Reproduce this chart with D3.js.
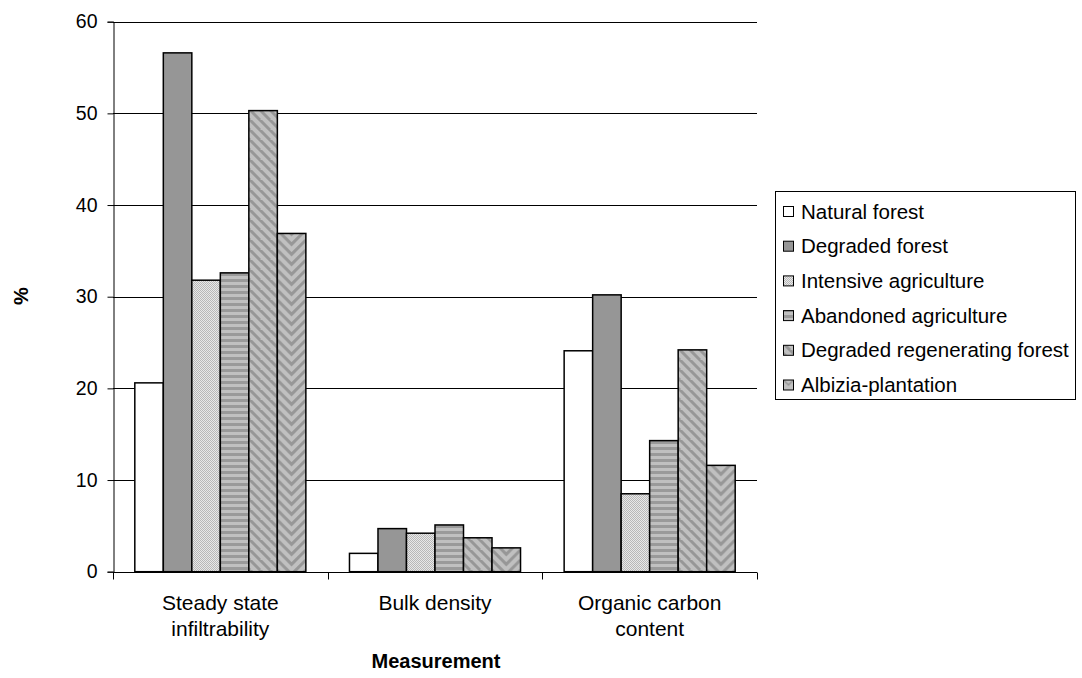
<!DOCTYPE html>
<html><head><meta charset="utf-8">
<script src="https://cdn.jsdelivr.net/npm/d3@7"></script>
<style>body{margin:0;background:#fff;} svg{display:block;font-family:"Liberation Sans",Arial,sans-serif;}</style>
</head><body>
<script>
const categories = [["Steady state","infiltrability"],["Bulk density"],["Organic carbon","content"]];
const categoryKeys = ["Steady state infiltrability","Bulk density","Organic carbon content"];
const seriesNames = ["Natural forest","Degraded forest","Intensive agriculture","Abandoned agriculture","Degraded regenerating forest","Albizia-plantation"];
const naturalForest = [20.6, 2.0, 24.1];
const degradedForest = [56.6, 4.7, 30.2];
const intensiveAgriculture = [31.8, 4.2, 8.5];
const abandonedAgriculture = [32.6, 5.1, 14.3];
const degradedRegenerating = [50.3, 3.7, 24.2];
const albiziaPlantation = [36.9, 2.6, 11.6];
const yTicks = [0,10,20,30,40,50,60];
const seriesValues = [naturalForest, degradedForest, intensiveAgriculture, abandonedAgriculture, degradedRegenerating, albiziaPlantation];

(function(){
const W = 1082, H = 678;
const svg = d3.select("body").append("svg").attr("width", W).attr("height", H);
const defs = svg.append("defs");

const pl = 113, pr = 757, pt = 21.7, pb = 571.7;
const x0 = d3.scaleBand().domain(categoryKeys).range([pl, pr]).paddingInner(0).paddingOuter(0);
const x1 = d3.scaleBand().domain(seriesNames).range([0, x0.bandwidth()]).paddingOuter(0.765).paddingInner(0);
const y = d3.scaleLinear().domain([0, 60]).range([pb, pt]);
const bw = x1.bandwidth();

// patterns
const pDot = defs.append("pattern").attr("id","pInt").attr("patternUnits","userSpaceOnUse").attr("width",2).attr("height",2);
pDot.append("rect").attr("width",2).attr("height",2).attr("fill","#e8e8e8");
pDot.append("rect").attr("width",1).attr("height",1).attr("fill","#b8b8b8");
pDot.append("rect").attr("x",1).attr("y",1).attr("width",1).attr("height",1).attr("fill","#b8b8b8");

const pH = defs.append("pattern").attr("id","pAb").attr("patternUnits","userSpaceOnUse").attr("width",8).attr("height",6);
pH.append("rect").attr("width",8).attr("height",6).attr("fill","#c0c0c0");
pH.append("rect").attr("y",3).attr("width",8).attr("height",3).attr("fill","#9a9a9a");

const pD = defs.append("pattern").attr("id","pReg").attr("patternUnits","userSpaceOnUse").attr("width",10).attr("height",10);
pD.append("rect").attr("width",10).attr("height",10).attr("fill","#c0c0c0");
pD.append("path").attr("d","M0,0 L10,10 M-5,5 L0,10 M5,-5 L15,5").attr("stroke","#979797").attr("stroke-width",3);

// chevron pattern per bar position (aligned to each bar)
function chevronPattern(id, xoff, w, size) {
  const ph = 10;
  const p = defs.append("pattern").attr("id", id).attr("patternUnits","userSpaceOnUse")
    .attr("width", w).attr("height", ph).attr("patternTransform", `translate(${xoff},0)`);
  p.append("rect").attr("width", w).attr("height", ph).attr("fill","#c0c0c0");
  let d = "";
  for (let k = -3; k <= 2; k++) {
    const y0 = k * ph;
    d += `M0,${y0} L${w/2},${y0 + w/2} L${w},${y0} `;
  }
  p.append("path").attr("d", d).attr("fill","none").attr("stroke","#979797").attr("stroke-width", size);
}

const fills = ["#ffffff","#969696","url(#pInt)","url(#pAb)","url(#pReg)", null];

// gridlines
svg.append("g").selectAll("line").data(yTicks.filter(d=>d>0)).join("line")
  .attr("x1", pl).attr("x2", pr).attr("y1", d=>Math.round(y(d))+0.5).attr("y2", d=>Math.round(y(d))+0.5)
  .attr("stroke","#000").attr("stroke-width",1);

// bars
const g = svg.append("g");
categoryKeys.forEach((c, ci) => {
  seriesNames.forEach((s, si) => {
    const v = seriesValues[si][ci];
    const bx = x0(c) + x1(s);
    let fill = fills[si];
    if (fill === null) {
      const id = "pAlb" + ci;
      chevronPattern(id, bx, bw, 3);
      fill = `url(#${id})`;
    }
    g.append("rect")
      .attr("x", bx).attr("y", y(v))
      .attr("width", bw).attr("height", y(0) - y(v))
      .attr("fill", fill).attr("stroke","#000").attr("stroke-width",1.5);
  });
});

// y axis
const yAxis = svg.append("g").attr("transform",`translate(${pl+0.5},0)`)
  .call(d3.axisLeft(y).tickValues(yTicks).tickSize(6).tickPadding(10));
yAxis.select(".domain").attr("stroke","#000");
yAxis.selectAll(".tick line").attr("stroke","#000");
yAxis.selectAll("text").attr("font-size",19.5).attr("fill","#000").attr("font-family","Liberation Sans, Arial, sans-serif");

// x axis
const xAxisG = svg.append("g").attr("transform",`translate(0,${Math.round(pb)+0.5})`);
xAxisG.append("line").attr("x1",pl).attr("x2",pr).attr("stroke","#000").attr("stroke-width",1);
const boundaries = categoryKeys.map(c=>x0(c)).concat([pr]);
xAxisG.selectAll("line.tk").data(boundaries).join("line").attr("class","tk")
  .attr("x1",d=>Math.round(d)+0.5).attr("x2",d=>Math.round(d)+0.5).attr("y1",0).attr("y2",7).attr("stroke","#000");
categoryKeys.forEach((c, ci) => {
  const t = svg.append("text").attr("x", x0(c) + x0.bandwidth()/2).attr("y", 610)
    .attr("text-anchor","middle").attr("font-size",21).attr("fill","#000");
  categories[ci].forEach((line, li) => {
    t.append("tspan").attr("x", x0(c) + x0.bandwidth()/2).attr("dy", li === 0 ? 0 : 26).text(line);
  });
});

// axis titles
svg.append("text").attr("x", 436).attr("y", 668).attr("text-anchor","middle")
  .attr("font-size",20).attr("font-weight","bold").text("Measurement");
svg.append("text").attr("transform","translate(28,296) rotate(-90)").attr("text-anchor","middle")
  .attr("font-size",20).attr("font-weight","bold").text("%");

// legend
chevronPattern("pAlbLeg", 783.5, 10, 1.5);
const legFills = fills.slice(0,5).concat(["url(#pAlbLeg)"]);
const lg = svg.append("g");
lg.append("rect").attr("x",775.5).attr("y",191.5).attr("width",300).attr("height",208)
  .attr("fill","#fff").attr("stroke","#000").attr("stroke-width",1);
seriesNames.forEach((s, i) => {
  const cy = 211 + i * 34.7;
  lg.append("rect").attr("x",783.5).attr("y",cy-4.5).attr("width",10).attr("height",10)
    .attr("fill",legFills[i]).attr("stroke","#000").attr("stroke-width",1);
  lg.append("text").attr("x",801).attr("y",cy+7.5).attr("font-size",20.5).attr("fill","#000").text(s);
});
})();
</script>
</body></html>
